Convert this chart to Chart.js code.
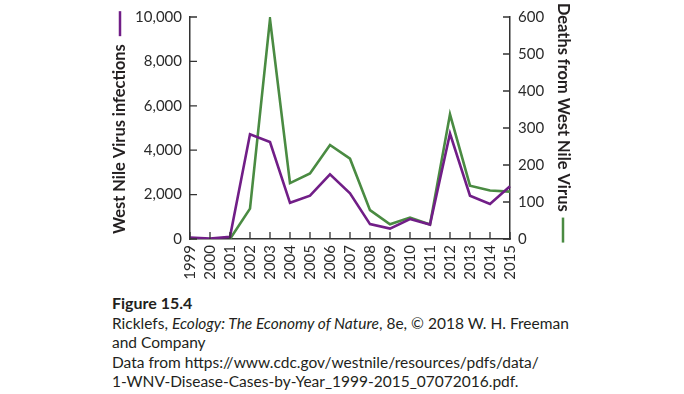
<!DOCTYPE html>
<html>
<head>
<meta charset="utf-8">
<script src="https://cdn.jsdelivr.net/npm/chart.js@4.4.1/dist/chart.umd.min.js"></script>
<style>
  html, body { margin: 0; padding: 0; background: #fff; }
  #wrap { position: relative; width: 684px; height: 394px; overflow: hidden; }
  #chart-box { position: absolute; left: 0; top: 0; width: 684px; height: 290px; }
  #caption {
    position: absolute; left: 112px; top: 293px;
    font-family: Lato, "Open Sans", sans-serif; font-size: 15.5px; line-height: 19.5px; color: #231f20;
  }
  #caption b { font-weight: bold; font-size: 16px; }
</style>
</head>
<body>
<div id="wrap">
  <div id="chart-box"><canvas id="wnv-chart"></canvas></div>
  <div id="caption">
    <b>Figure 15.4</b><br>
    Ricklefs, <i>Ecology: The Economy of Nature</i>, 8e, © 2018 W. H. Freeman<br>
    and Company<br>
    Data from https://www.cdc.gov/westnile/resources/pdfs/data/<br>
    1-WNV-Disease-Cases-by-Year_1999-2015_07072016.pdf.
  </div>
</div>
<script>
// Data
const years = ['1999', '2000', '2001', '2002', '2003', '2004', '2005', '2006', '2007',
               '2008', '2009', '2010', '2011', '2012', '2013', '2014', '2015'];
const infections = [60, 20, 100, 4720, 4370, 1630, 1950, 2910, 2060, 670, 470, 900, 650, 4750, 1950, 1580, 2380];
const deaths = [null, null, 0, 82, 594, 151, 177, 254, 217, 78, 40, 58, 39, 337, 144, 131, 128];

const infectionTicks = [0, 2000, 4000, 6000, 8000, 10000];
const deathTicks = [0, 100, 200, 300, 400, 500, 600];

const PURPLE = '#711e87';
const GREEN = '#4a8b42';
const AXIS_COLOR = '#333333';
const TEXT_COLOR = '#2b2b2b';
const FONT = 'Lato, "Open Sans", sans-serif';

// Inward tick marks + axis titles with colour keys
const axisDecor = {
    id: 'axisDecor',
    afterDraw(chart) {
        const ctx = chart.ctx;
        const area = chart.chartArea;
        const yL = chart.scales.yInf;
        const yR = chart.scales.yDeaths;
        const xS = chart.scales.x;
        const len = 7;

        ctx.save();
        ctx.strokeStyle = AXIS_COLOR;
        ctx.lineWidth = 1.3;
        ctx.beginPath();
        yL.ticks.forEach((t, i) => {
            const py = yL.getPixelForTick(i);
            ctx.moveTo(area.left, py);
            ctx.lineTo(area.left + len, py);
        });
        yR.ticks.forEach((t, i) => {
            const py = yR.getPixelForTick(i);
            ctx.moveTo(area.right, py);
            ctx.lineTo(area.right - len, py);
        });
        xS.ticks.forEach((t, i) => {
            const px = xS.getPixelForTick(i);
            ctx.moveTo(px, area.bottom);
            ctx.lineTo(px, area.bottom - len);
        });
        ctx.stroke();

        // left title, reads bottom to top
        ctx.font = 'bold 16.4px ' + FONT;
        ctx.fillStyle = '#231f20';
        ctx.textBaseline = 'middle';
        ctx.textAlign = 'left';
        ctx.save();
        ctx.translate(120, area.bottom - 5);
        ctx.rotate(-Math.PI / 2);
        const lt = 'West Nile Virus infections';
        ctx.fillText(lt, 0, 0);
        let w = ctx.measureText(lt).width;
        ctx.strokeStyle = PURPLE;
        ctx.lineWidth = 2.5;
        ctx.beginPath();
        ctx.moveTo(w + 8, 0);
        ctx.lineTo(w + 33, 0);
        ctx.stroke();
        ctx.restore();

        // right title, reads top to bottom
        ctx.save();
        ctx.translate(563, 3);
        ctx.rotate(Math.PI / 2);
        const rt = 'Deaths from West Nile Virus';
        ctx.fillText(rt, 0, 0);
        w = ctx.measureText(rt).width;
        ctx.strokeStyle = GREEN;
        ctx.lineWidth = 2.5;
        ctx.beginPath();
        ctx.moveTo(w + 6, 0);
        ctx.lineTo(w + 31, 0);
        ctx.stroke();
        ctx.restore();

        ctx.restore();
    }
};

function initializeChart() {
    const ctx = document.getElementById('wnv-chart').getContext('2d');
    const tickFont = { family: FONT, size: 15 };

    new Chart(ctx, {
        type: 'line',
        data: {
            labels: years,
            datasets: [{
                label: 'West Nile Virus infections',
                data: infections,
                yAxisID: 'yInf',
                borderColor: PURPLE,
                borderWidth: 2.6,
                pointRadius: 0,
                tension: 0
            }, {
                label: 'Deaths from West Nile Virus',
                data: deaths,
                yAxisID: 'yDeaths',
                borderColor: GREEN,
                borderWidth: 2.6,
                pointRadius: 0,
                tension: 0
            }]
        },
        options: {
            responsive: true,
            maintainAspectRatio: false,
            animation: false,
            layout: { padding: { top: 13, left: 0, right: 0, bottom: 0 } },
            plugins: {
                legend: { display: false },
                tooltip: { enabled: false }
            },
            scales: {
                x: {
                    offset: false,
                    grid: { display: true, drawOnChartArea: false, drawTicks: false },
                    border: { display: true, color: AXIS_COLOR, width: 1.5 },
                    ticks: {
                        autoSkip: false,
                        minRotation: 90,
                        maxRotation: 90,
                        padding: 6,
                        color: TEXT_COLOR,
                        font: tickFont
                    },
                    afterFit: s => { s.height = 51; }
                },
                yInf: {
                    position: 'left',
                    min: 0,
                    max: 10000,
                    afterBuildTicks: s => { s.ticks = infectionTicks.map(v => ({ value: v })); },
                    grid: { display: true, drawOnChartArea: false, drawTicks: false },
                    border: { display: true, color: AXIS_COLOR, width: 1.5 },
                    ticks: {
                        padding: 8,
                        color: TEXT_COLOR,
                        font: tickFont,
                        callback: v => v.toLocaleString('en-US')
                    },
                    afterFit: s => { s.width = 190; }
                },
                yDeaths: {
                    position: 'right',
                    min: 0,
                    max: 600,
                    afterBuildTicks: s => { s.ticks = deathTicks.map(v => ({ value: v })); },
                    grid: { display: true, drawOnChartArea: false, drawTicks: false },
                    border: { display: true, color: AXIS_COLOR, width: 1.5 },
                    ticks: {
                        padding: 8,
                        color: TEXT_COLOR,
                        font: tickFont
                    },
                    afterFit: s => { s.width = 174; }
                }
            }
        },
        plugins: [axisDecor]
    });
}

document.addEventListener('DOMContentLoaded', initializeChart);
</script>
</body>
</html>
